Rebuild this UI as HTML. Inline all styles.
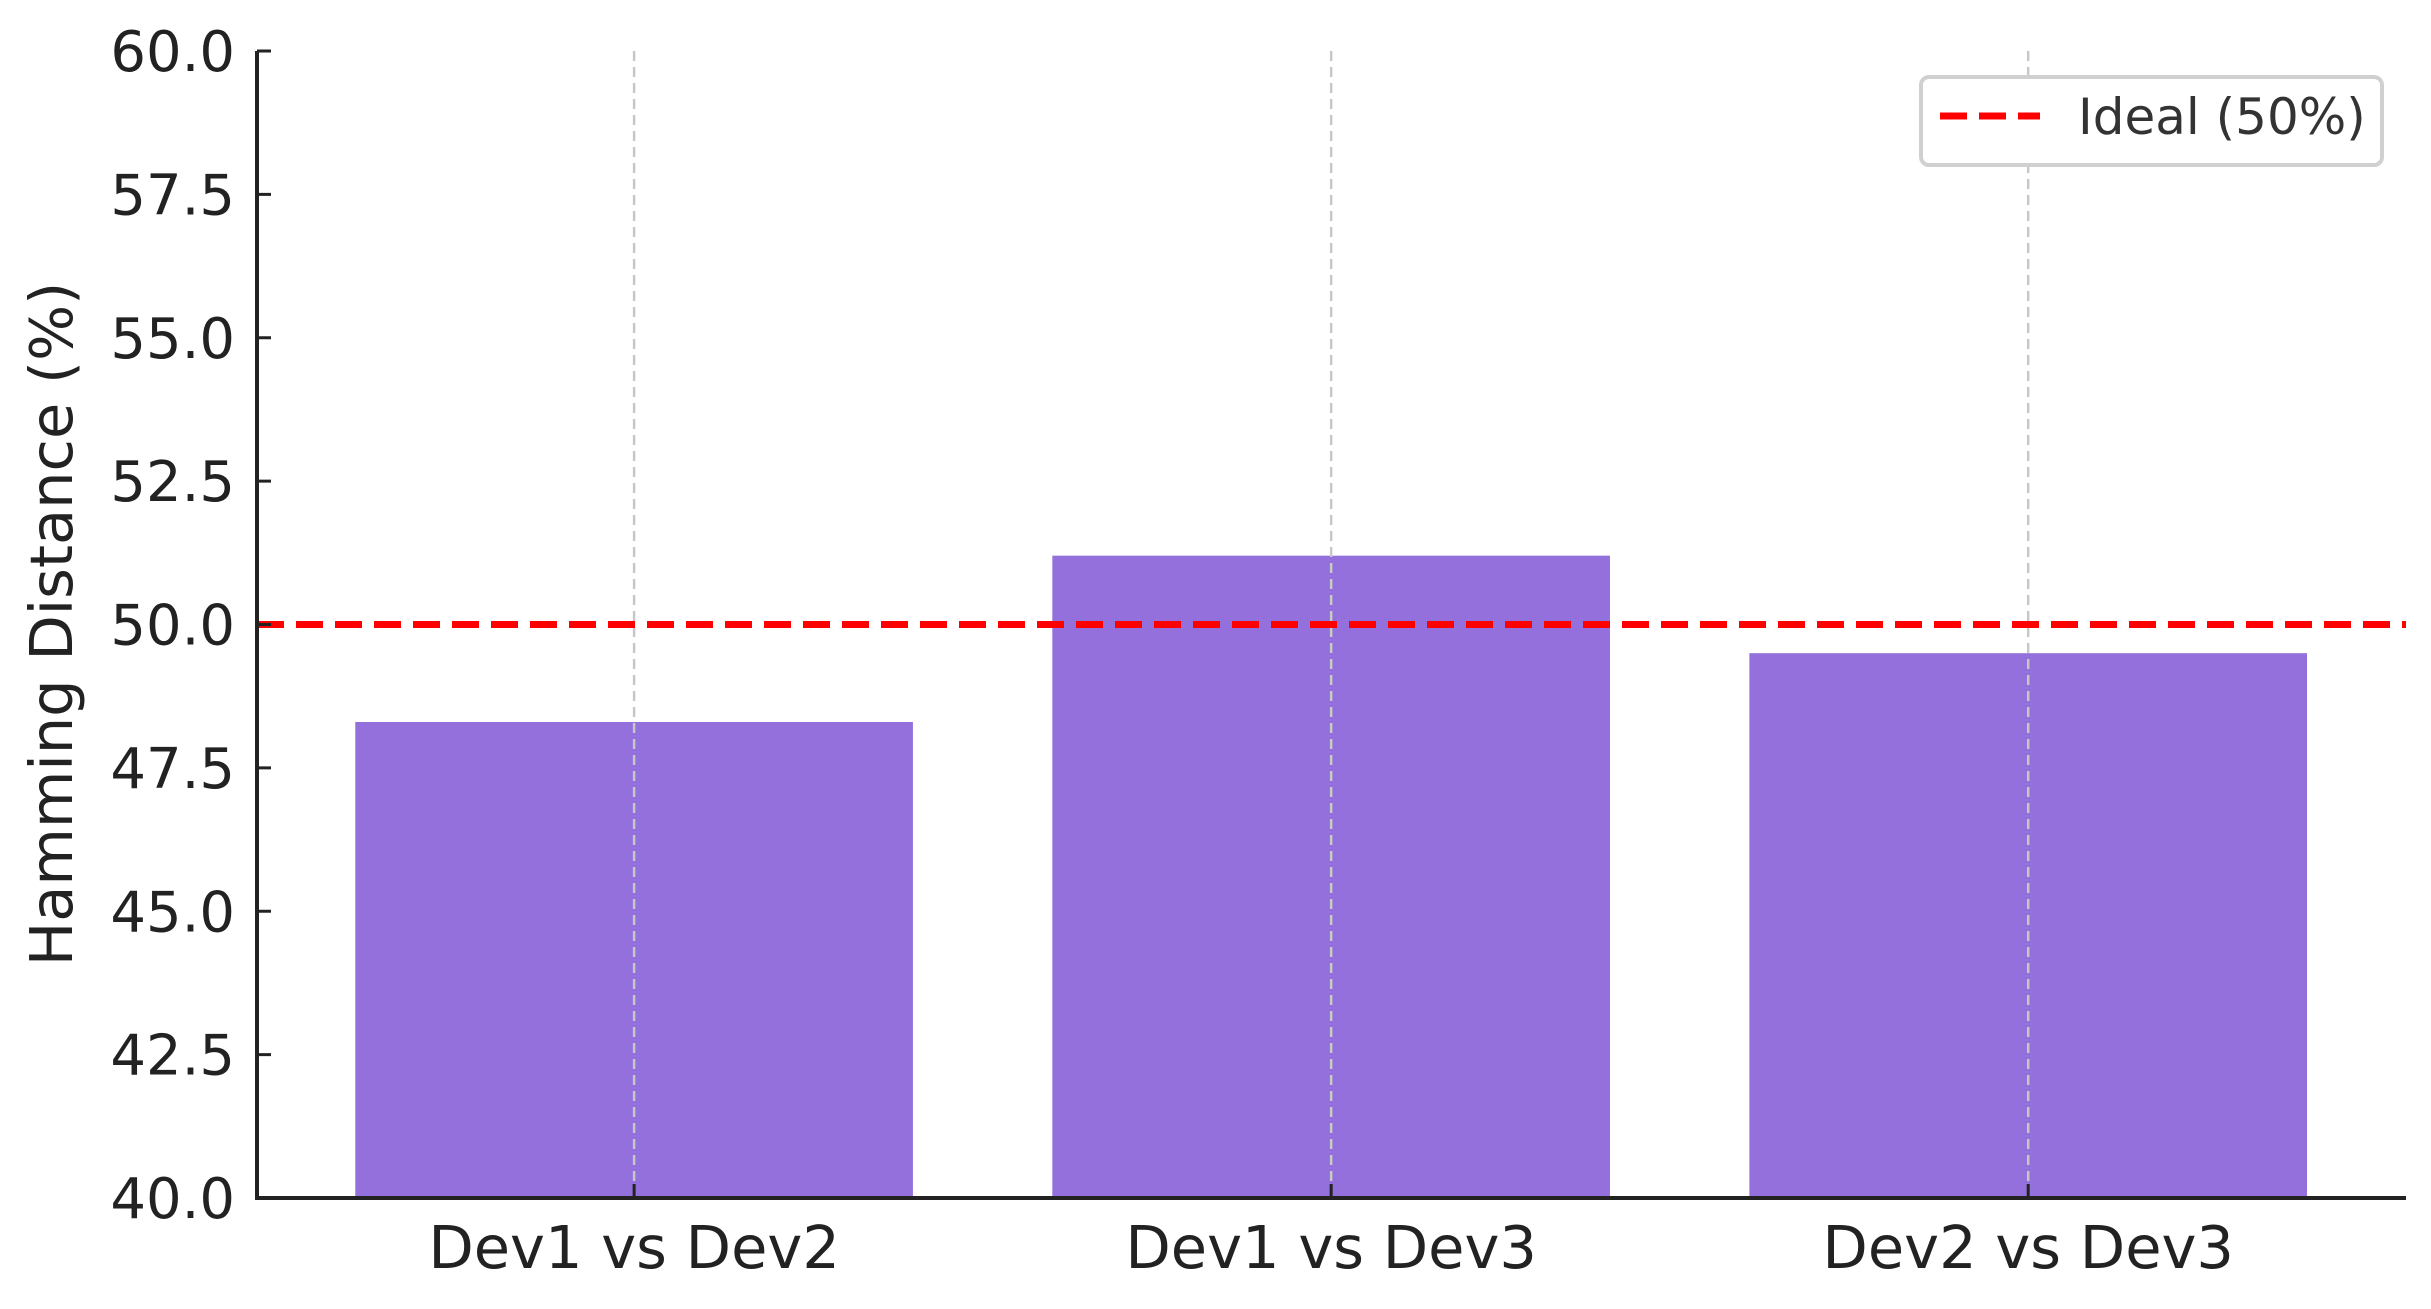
<!DOCTYPE html>
<html><head><meta charset="utf-8"><style>
html,body{margin:0;padding:0;background:#fff;}
svg{display:block;font-family:"DejaVu Sans","Liberation Sans",sans-serif;}
</style></head><body>
<svg id="chart" width="2431" height="1309" viewBox="0 0 2431 1309" xmlns="http://www.w3.org/2000/svg">
<g id="bars"></g>
<g id="grid"></g>
<g id="ideal"></g>
<g id="axes"></g>
<text transform="translate(72,624) rotate(-90)" text-anchor="middle" font-size="59" fill="#222">Hamming Distance (%)</text>
<g>
<rect x="1921" y="77" width="461" height="88" rx="8" fill="#fff" stroke="#d0d0d0" stroke-width="4"/>
<line x1="1940" y1="116" x2="2040" y2="116" stroke="#ff0000" stroke-width="7" stroke-dasharray="27,12"/>
<text x="2078" y="134" font-size="50" fill="#333">Ideal (50%)</text>
</g>
</svg>
<script>
const categories = ["Dev1 vs Dev2", "Dev1 vs Dev3", "Dev2 vs Dev3"];
const values = [48.3, 51.2, 49.5];
const yTicks = [40.0, 42.5, 45.0, 47.5, 50.0, 52.5, 55.0, 57.5, 60.0];
const idealValue = [50];

const NS = "http://www.w3.org/2000/svg";
const L = 257, R = 2406, T = 51, B = 1198;
const xMin = -0.541, xMax = 2.542, yMin = 40, yMax = 60;
function xs(v){ return L + (v - xMin) / (xMax - xMin) * (R - L); }
function ys(v){ return B - (v - yMin) / (yMax - yMin) * (B - T); }
function mk(tag, attrs, parent){
  const e = document.createElementNS(NS, tag);
  for (const k in attrs) e.setAttribute(k, attrs[k]);
  parent.appendChild(e);
  return e;
}
const grid = document.getElementById('grid');
const bars = document.getElementById('bars');
const axes = document.getElementById('axes');
const ideal = document.getElementById('ideal');
const bw = 0.8;
categories.forEach((c, i) => {
  const g = mk('line', {x1: xs(i), x2: xs(i), y1: T, y2: B, stroke: '#c8c8c8', 'stroke-width': 2.5, 'stroke-dasharray': '10,6'}, grid);
  
  
  const r = mk('rect', {x: xs(i - bw/2), y: ys(values[i]), width: xs(i + bw/2) - xs(i - bw/2), height: ys(yMin) - ys(values[i]), fill: '#9370db'}, bars);
  
  
  const t = mk('line', {x1: xs(i), x2: xs(i), y1: B, y2: B - 14, stroke: '#222', 'stroke-width': 3}, axes);
  
  
  const lb = mk('text', {x: xs(i), y: B + 70, 'text-anchor': 'middle', 'font-size': 59, fill: '#222'}, axes);
  lb.textContent = c;
  
  
});
yTicks.forEach((v, i) => {
  const t = mk('line', {x1: L, x2: L + 14, y1: ys(v), y2: ys(v), stroke: '#222', 'stroke-width': 3}, axes);
  
  
  const lb = mk('text', {x: L - 22, y: ys(v) + 20, 'text-anchor': 'end', 'font-size': 56, fill: '#222'}, axes);
  lb.textContent = v.toFixed(1);
  
  
});
const il = mk('line', {x1: L, x2: R, y1: ys(idealValue[0]), y2: ys(idealValue[0]), stroke: '#ff0000', 'stroke-width': 7, 'stroke-dasharray': '27,12'}, ideal);


const ya = mk('line', {x1: L, x2: L, y1: T, y2: B + 2, stroke: '#222', 'stroke-width': 4}, axes);


const xa = mk('line', {x1: L - 2, x2: R, y1: B, y2: B, stroke: '#222', 'stroke-width': 4}, axes);


</script>
</body></html>
